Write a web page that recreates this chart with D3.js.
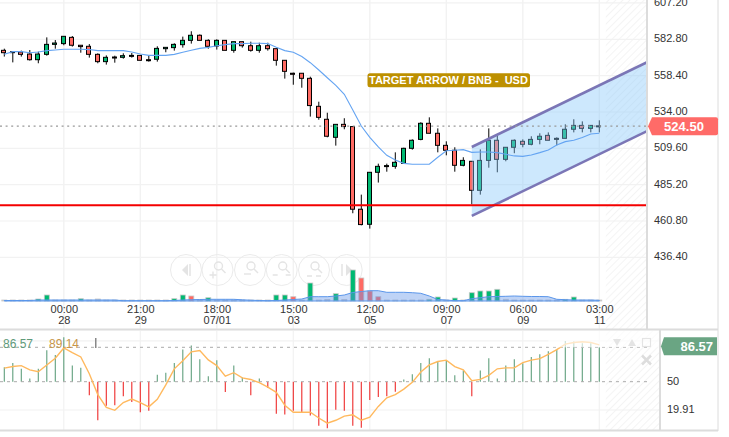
<!DOCTYPE html>
<html>
<head>
<meta charset="utf-8">
<script src="https://cdnjs.cloudflare.com/ajax/libs/d3/7.8.5/d3.min.js"></script>
<style>
  html, body { margin: 0; padding: 0; background: #fff; overflow: hidden; }
  text { font-family: "Liberation Sans", Arial, sans-serif; }
</style>
</head>
<body>
<div id="chart"></div>
<script>
//Candles, one entry per bar
const open = [575.4,574.5,574.3,572.9,569.1,572.7,579.4,579.9,584.1,578.8,578.1,572.7,567.8,570.9,570.7,572.0,572.0,569.1,569.4,576.5,577.2,579.2,582.1,585.5,582.1,578.3,582.1,575.4,581.2,578.5,575.4,578.5,576.5,568.7,560.0,560.0,556.6,537.8,529.1,517.0,525.7,524.2,468.7,458.6,493.5,497.5,497.5,499.5,509.6,515.6,526.4,519.7,511.6,508.3,498.2,500.9,481.4,501.5,515.0,502.2,510.3,514.3,512.3,515.6,518.3,516.3,516.3,522.4,525.0,523.0,524.7];
const high = [576.5,574.5,575.2,575.6,574.5,584.1,582.3,584.8,585.0,578.8,579.6,573.4,572.0,571.8,573.4,573.6,572.0,572.0,578.1,577.4,580.1,584.6,588.2,586.1,582.8,582.8,582.1,581.2,581.2,581.2,580.5,580.5,576.5,568.7,560.4,560.0,557.7,540.9,533.5,525.7,529.8,524.2,478.5,493.5,499.3,499.3,506.9,510.0,515.6,527.1,530.4,523.0,514.3,510.3,503.6,500.9,508.9,523.0,518.3,510.3,515.6,515.6,517.7,519.7,520.3,517.0,525.7,529.1,527.7,525.0,528.4];
const low = [571.2,567.3,571.2,568.5,566.7,571.8,576.5,578.8,577.9,573.8,570.5,566.7,565.8,567.1,569.8,570.5,568.5,567.8,567.8,574.1,575.2,577.2,579.9,582.1,576.5,575.9,575.4,573.8,577.2,574.5,573.8,575.2,565.1,556.4,552.3,550.3,530.9,528.8,517.0,511.4,522.4,466.0,457.9,455.7,486.6,493.9,495.9,499.5,508.7,515.0,519.7,506.9,504.9,493.9,497.5,472.0,478.5,496.6,493.5,500.9,506.3,510.3,511.6,512.3,515.0,511.6,516.3,520.3,520.3,520.3,520.3];
const close = [573.8,574.1,572.7,569.1,572.9,579.4,580.3,584.8,578.8,577.9,572.7,567.8,570.7,570.7,571.8,571.8,568.7,568.5,576.7,577.4,579.4,582.1,585.5,582.1,578.1,582.1,575.4,581.2,578.5,575.4,578.5,576.5,568.7,561.3,559.3,556.6,538.3,530.4,517.7,525.7,524.2,468.7,458.4,493.5,497.5,498.0,500.2,509.6,515.0,526.4,519.7,511.6,508.3,498.2,501.5,481.4,501.5,515.0,502.2,510.3,515.0,512.3,515.6,517.7,515.0,515.6,522.4,525.0,523.0,525.0,524.5];
const priceAvg = [572.7,574.5,574.5,573.8,574.3,575.2,575.6,576.1,576.1,576.1,575.9,575.2,575.2,575.2,575.2,574.3,572.9,572.0,572.0,572.0,572.7,574.1,575.4,576.7,577.4,578.5,579.2,579.9,579.9,580.1,580.1,579.9,577.4,575.2,574.1,571.2,567.1,562.2,557.0,551.9,545.9,535.3,524.6,517.0,510.5,504.9,501.8,499.5,498.9,498.9,498.9,503.6,508.0,508.3,508.7,506.9,507.1,507.1,506.7,505.6,504.5,504.2,505.1,506.7,508.5,511.8,514.1,515.0,516.8,519.2,519.7];

//Volume pane
const volume = [1,1,1,1,2,6,1,1,1,2.3,1,2,1,1,1,1,1,1,1,1,2.3,6,5,1,3.3,1,1,1,1,1,1,1,6,6,4.3,1,18,1,1.5,7.3,1.5,31,23,10,4.3,1,1,1,1,1,1.7,4,1,3,1,8.3,10,10,11.7,1.7,1,1,1,1,1,1,1.7,4,1,1,1];
const volumeKind = ['n','n','n','n','u','u','n','n','n','u','n','n','n','n','n','n','n','n','n','n','u','u','d','n','u','n','n','n','n','n','n','n','u','u','d','n','u','n','n','u','n','u','d','d','d','n','n','n','n','n','u','u','n','u','n','u','u','u','u','n','n','n','n','n','n','n','u','u','n','n','n'];
const volumeAvg = [0.5,0.5,0.5,0.5,1,1,1,1,1,1,1,1,1,1,0.3,0.3,0.3,0.3,0.3,0.3,0.5,1,1.3,1.5,1.7,1.7,1.7,1.7,1.2,0.8,0.5,0.3,0.5,1,1.5,2,4.3,4.3,4.3,5,6,8.5,9.5,10.3,10.3,8.7,8.7,8.7,8.3,7.7,5,1.5,1,0.3,0.3,2.3,3.3,4.3,4.5,4.7,5,4.7,4.5,4.5,4.3,1.7,1.3,1,1,1,0.7];

//Oscillator pane
const oscBars = [65.4,69.8,63.7,53.4,63.7,83.5,78.4,97.2,67.1,64.7,35.6,9.0,24.4,25.0,34.6,28.5,17.5,19.2,57.5,59.6,69.8,84.2,88.6,73.9,55.8,72.9,39.1,67.1,54.4,35.6,53.4,43.2,15.8,15.1,19.2,17.5,14.1,3.2,0.4,20.3,19.2,3.2,1.1,30.5,33.6,34.6,39.4,52.4,57.9,69.8,75.0,71.5,72.2,56.8,62.0,34.6,62.0,75.0,53.4,67.1,73.9,69.5,76.3,79.1,82.5,84.2,93.4,92.7,91.0,91.0,86.57];
const oscLine = [64.4,66.1,67.1,62.6,60.6,67.8,75.0,85.9,80.8,76.3,58.5,36.3,22.7,19.6,27.8,31.5,27.8,23.3,31.2,46.6,63.7,72.2,81.8,83.2,73.2,67.1,55.8,59.6,54.1,52.4,49.0,44.2,38.7,25.0,17.5,17.5,17.5,11.4,5.9,9.0,13.4,14.8,9.0,12.4,23.7,32.9,36.3,42.1,49.3,60.3,67.8,71.5,72.9,66.1,62.6,51.0,52.4,56.8,63.7,64.7,64.7,70.2,72.9,74.6,79.1,84.2,90.0,91.7,92.4,91.7,89.14];

//Axis labels
const priceTicks = [607.2,582.8,558.4,534.0,509.6,485.2,460.8,436.4];
const oscTicks = [50,19.91];
const timeIndex = [7,16,25,34,43,52,61,70];
const timeLabels = ['00:00','21:00','18:00','15:00','12:00','09:00','06:00','03:00'];
const dateLabels = ['28','29','07/01','03','05','07','09','11'];

//Drawn objects and levels
const lastPrice = 524.5;
const lastOsc = 86.57;
const oscSignal = 89.14;
const supportPrice = 471.4;
const channelIndex = [55,75.7];
const channelUpper = [510.5,567.6];
const channelLower = [464.2,521.4];

const width = 729, height = 437;
const plotRight = 647, lowerRight = 660, boxRight = 718;
const upColor = '#00b972', downColor = '#ff6a63';
const gridColor = '#f2f2f2', frameColor = '#dcdcdc';

const svg = d3.select('#chart').append('svg')
  .attr('width', width).attr('height', height)
  .style('display', 'block');

//Scales
const xScale = d3.scaleLinear().domain([0, 70]).range([4.3, 599.3]);
const yScale = d3.scaleLinear().domain([582.8, 460.8]).range([39.3, 221]);
const volScale = d3.scaleLinear().domain([0, 31]).range([301, 270]);
const oscScale = d3.scaleLinear().domain([50, 19.91]).range([381.7, 410]);

const defs = svg.append('defs');
const hatch = defs.append('pattern').attr('id', 'hatch')
  .attr('width', 5).attr('height', 5)
  .attr('patternUnits', 'userSpaceOnUse')
  .attr('patternTransform', 'rotate(45)');
hatch.append('line').attr('x1', 0).attr('y1', 0).attr('x2', 0).attr('y2', 5)
  .attr('stroke', '#f1f1f1').attr('stroke-width', 1.6);
defs.append('clipPath').attr('id', 'mainClip').append('rect')
  .attr('x', 0).attr('y', 0).attr('width', plotRight).attr('height', 329);
defs.append('clipPath').attr('id', 'oscClip').append('rect')
  .attr('x', 0).attr('y', 331).attr('width', lowerRight).attr('height', 99);

const xHatch = xScale(70) + 6.5;

//Grid
const grid = svg.append('g');
grid.selectAll('.grid-x').data(timeIndex).enter().append('line')
  .attr('x1', d => xScale(d)).attr('x2', d => xScale(d))
  .attr('y1', 0).attr('y2', 329)
  .attr('stroke', gridColor).attr('stroke-width', 1.4);
grid.selectAll('.grid-y').data(priceTicks).enter().append('line')
  .attr('x1', 0).attr('x2', plotRight)
  .attr('y1', d => yScale(d)).attr('y2', d => yScale(d))
  .attr('stroke', gridColor).attr('stroke-width', 1.2);
grid.selectAll('.grid-xo').data(timeIndex).enter().append('line')
  .attr('x1', d => xScale(d)).attr('x2', d => xScale(d))
  .attr('y1', 331).attr('y2', 430)
  .attr('stroke', gridColor).attr('stroke-width', 1.2);
grid.selectAll('.grid-yo').data([19.91, 93.5]).enter().append('line')
  .attr('x1', 0).attr('x2', lowerRight)
  .attr('y1', d => oscScale(d)).attr('y2', d => oscScale(d))
  .attr('stroke', gridColor).attr('stroke-width', 1.2);

//Hatched future area
svg.append('rect').attr('x', xHatch).attr('y', 0)
  .attr('width', plotRight - xHatch).attr('height', 329).attr('fill', 'url(#hatch)');
svg.append('rect').attr('x', xHatch).attr('y', 331)
  .attr('width', lowerRight - xHatch).attr('height', 99).attr('fill', 'url(#hatch)');

//Navigation buttons
const navX = [186, 217.5, 250, 281.7, 314, 346.7];
const nav = svg.append('g').attr('fill', 'none').attr('stroke', '#ebebeb');
nav.selectAll('circle').data(navX).enter().append('circle')
  .attr('cx', d => d).attr('cy', 270).attr('r', 15.5).attr('stroke-width', 1);
nav.append('path').attr('d', 'M188,264 L188,276 L182,270 Z').attr('fill', '#e4e4e4').attr('stroke', 'none');
nav.append('path').attr('d', 'M346,264 L346,276 L352,270 Z').attr('fill', '#e4e4e4').attr('stroke', 'none');
nav.append('path').attr('d', 'M190,264 L190,276 M342,264 L342,276').attr('stroke', '#e4e4e4').attr('stroke-width', 1.5);
navX.slice(1, 5).forEach((cx, i) => {
  const g = nav.append('g').attr('stroke', '#e4e4e4').attr('stroke-width', 1.4);
  g.append('circle').attr('cx', cx + 1).attr('cy', 266).attr('r', 4);
  g.append('line').attr('x1', cx + 4).attr('y1', 269).attr('x2', cx + 8).attr('y2', 273);
  if (i === 0) g.append('path').attr('d', `M${cx - 8},275 h7 M${cx - 4.5},271.5 v7`);
  if (i === 1) g.append('path').attr('d', `M${cx - 6},274 h7`);
  if (i === 2) g.append('path').attr('d', `M${cx - 9},275 h5 M${cx + 4},275 h5`);
  if (i === 3) g.append('path').attr('d', `M${cx - 7},276 h5 M${cx + 2},276 h5`);
});

//Volume bars
const main = svg.append('g').attr('clip-path', 'url(#mainClip)');
main.selectAll('.vol').data(volume).enter().append('rect')
  .attr('class', 'vol')
  .attr('x', (d, i) => xScale(i) - 2.5)
  .attr('width', 5)
  .attr('y', d => volScale(d))
  .attr('height', d => volScale(0) - volScale(d))
  .attr('fill', (d, i) => volumeKind[i] === 'u' ? upColor : volumeKind[i] === 'd' ? downColor : '#cccccc')
  .attr('stroke', '#c8c8c8').attr('stroke-width', 0.8);

//Volume average
const volArea = d3.area().x((d, i) => xScale(i)).y0(volScale(0)).y1(d => volScale(d));
main.append('path').attr('d', volArea(volumeAvg))
  .attr('fill', 'rgba(92,146,232,0.4)')
  .attr('stroke', '#5b96ea').attr('stroke-width', 1);

//Candles
const candles = main.selectAll('.candle').data(open).enter().append('g').attr('class', 'candle');
candles.append('line')
  .attr('x1', (d, i) => xScale(i)).attr('x2', (d, i) => xScale(i))
  .attr('y1', (d, i) => yScale(high[i])).attr('y2', (d, i) => yScale(low[i]))
  .attr('stroke', '#000').attr('stroke-width', 1);
candles.append('rect')
  .attr('x', (d, i) => Math.round(xScale(i)) - 2.5)
  .attr('width', 4)
  .attr('y', (d, i) => yScale(Math.max(d, close[i])))
  .attr('height', (d, i) => Math.max(1, Math.abs(yScale(d) - yScale(close[i]))))
  .attr('fill', (d, i) => close[i] >= d ? upColor : downColor)
  .attr('stroke', '#000').attr('stroke-width', 1);

//Price channel
const channel = d3.range(2).map(i => [channelIndex[i], channelUpper[i], channelLower[i]]);
main.append('path')
  .attr('d', d3.area().x(d => xScale(d[0])).y0(d => yScale(d[2])).y1(d => yScale(d[1]))(channel))
  .attr('fill', 'rgba(135,200,250,0.42)');
[1, 2].forEach(k => {
  main.append('path')
    .attr('d', d3.line().x(d => xScale(d[0])).y(d => yScale(d[k]))(channel))
    .attr('fill', 'none').attr('stroke', '#7b76b6').attr('stroke-width', 2.6);
});

//Price average
main.append('path')
  .attr('d', d3.line().x((d, i) => xScale(i)).y(d => yScale(d))(priceAvg))
  .attr('fill', 'none').attr('stroke', '#64a4f2').attr('stroke-width', 1.1);

//Support and last price lines
main.append('line').attr('x1', 0).attr('x2', plotRight)
  .attr('y1', yScale(supportPrice)).attr('y2', yScale(supportPrice))
  .attr('stroke', '#f40000').attr('stroke-width', 2);
main.append('line').attr('x1', 0).attr('x2', plotRight)
  .attr('y1', yScale(lastPrice)).attr('y2', yScale(lastPrice))
  .attr('stroke', '#999').attr('stroke-width', 1.4).attr('stroke-dasharray', '2,3.6');

//Target label
svg.append('rect').attr('x', 367.5).attr('y', 73.3).attr('width', 162.5).attr('height', 14)
  .attr('rx', 2.5).attr('fill', '#bd9000');
svg.append('text').attr('x', 369).attr('y', 84.3)
  .attr('font-size', 11).attr('font-weight', 'bold').attr('fill', '#fff')
  .attr('xml:space', 'preserve').style('white-space', 'pre')
  .text('TARGET ARROW / BNB -  USD');

//Price axis
const priceAxis = svg.append('g')
  .attr('transform', `translate(${plotRight},-1)`)
  .call(d3.axisRight(yScale).tickValues(priceTicks).tickSize(0).tickPadding(7).tickFormat(d3.format('.2f')));
priceAxis.select('.domain').remove();
priceAxis.selectAll('text').attr('font-size', 11).attr('fill', '#333').style('font-family', '"Liberation Sans", Arial, sans-serif');

//Time axis, two rows per tick
const timeAxis = svg.append('g')
  .attr('transform', 'translate(0,301)')
  .call(d3.axisBottom(xScale).tickValues(timeIndex).tickSize(0).tickPadding(4)
    .tickFormat((d, i) => timeLabels[i]));
timeAxis.select('.domain').remove();
timeAxis.selectAll('text').attr('font-size', 11).attr('fill', '#333').style('font-family', '"Liberation Sans", Arial, sans-serif');
timeAxis.selectAll('.tick').append('text')
  .attr('y', 23).attr('text-anchor', 'middle')
  .attr('font-size', 11).attr('fill', '#333').style('font-family', '"Liberation Sans", Arial, sans-serif')
  .text((d, i) => dateLabels[i]);

//Oscillator bars
const osc = svg.append('g').attr('clip-path', 'url(#oscClip)');
osc.selectAll('.osc').data(oscBars).enter().append('line')
  .attr('x1', (d, i) => xScale(i)).attr('x2', (d, i) => xScale(i))
  .attr('y1', oscScale(50)).attr('y2', d => oscScale(d))
  .attr('stroke', d => d >= 50 ? '#5f9f7c' : '#ee2a2a').attr('stroke-width', 1.1);

//Oscillator reference lines
[50, lastOsc].forEach(v => {
  osc.append('line').attr('x1', 0).attr('x2', 650)
    .attr('y1', oscScale(v)).attr('y2', oscScale(v))
    .attr('stroke', '#aaa').attr('stroke-width', 1).attr('stroke-dasharray', '3,4');
});

//Oscillator signal
osc.append('path')
  .attr('d', d3.line().x((d, i) => xScale(i)).y(d => oscScale(d))(oscLine))
  .attr('fill', 'none').attr('stroke', '#ffb95e').attr('stroke-width', 1.4);

//Pale veil behind the pane controls
svg.append('rect').attr('x', xScale(64)).attr('y', 331)
  .attr('width', lowerRight - xScale(64)).attr('height', oscScale(lastOsc) - 331)
  .attr('fill', '#fff').attr('opacity', 0.65);

//Oscillator legend
svg.append('text').attr('x', 3).attr('y', 348).attr('font-size', 12).attr('fill', '#5f9a7a').text(lastOsc.toFixed(2));
svg.append('text').attr('x', 49).attr('y', 348).attr('font-size', 12).attr('fill', '#c8964a').text(oscSignal.toFixed(2));
svg.append('rect').attr('x', 95).attr('y', 338).attr('width', 1.5).attr('height', 10).attr('fill', '#888');

//Pane controls
const controls = svg.append('g').attr('fill', '#e4e4e4');
controls.append('path').attr('d', 'M613,339 h8 l-4,7 Z');
controls.append('path').attr('d', 'M632,339 l4,7 h-8 Z');
controls.append('rect').attr('x', 642.5).attr('y', 338.5).attr('width', 8).attr('height', 8)
  .attr('fill', 'none').attr('stroke', '#e4e4e4').attr('stroke-width', 1.2);
controls.append('path').attr('d', 'M642,355.5 L651,364.5 M651,355.5 L642,364.5')
  .attr('stroke', '#dddddd').attr('stroke-width', 2.5);

//Oscillator axis
const oscAxis = svg.append('g')
  .attr('transform', `translate(${lowerRight},-1)`)
  .call(d3.axisRight(oscScale).tickValues(oscTicks).tickSize(0).tickPadding(7).tickFormat(d => d));
oscAxis.select('.domain').remove();
oscAxis.selectAll('text').attr('font-size', 11).attr('fill', '#333').style('font-family', '"Liberation Sans", Arial, sans-serif');

//Pane frames
const frame = svg.append('g').attr('stroke', frameColor);
frame.append('line').attr('x1', plotRight).attr('x2', plotRight).attr('y1', 0).attr('y2', 329).attr('stroke-width', 2);
frame.append('line').attr('x1', boxRight).attr('x2', boxRight).attr('y1', 0).attr('y2', 431).attr('stroke-width', 1);
frame.append('line').attr('x1', lowerRight).attr('x2', lowerRight).attr('y1', 330).attr('y2', 431).attr('stroke-width', 2);
frame.append('line').attr('x1', 0).attr('x2', boxRight).attr('y1', 329.5).attr('y2', 329.5).attr('stroke-width', 2);
frame.append('line').attr('x1', 0).attr('x2', boxRight).attr('y1', 430.5).attr('y2', 430.5).attr('stroke-width', 2);

//Last value tags
const priceY = yScale(lastPrice);
svg.append('path')
  .attr('d', `M648,${priceY} L652,${priceY - 9} H716 a2,2 0 0 1 2,2 V${priceY + 7} a2,2 0 0 1 -2,2 H652 Z`)
  .attr('fill', '#ff6b68');
svg.append('text').attr('x', 684).attr('y', priceY + 4.5).attr('text-anchor', 'middle')
  .attr('font-size', 13).attr('font-weight', 'bold').attr('fill', '#fff').text(lastPrice.toFixed(2));
const oscY = oscScale(lastOsc);
svg.append('path')
  .attr('d', `M661,${oscY - 1} L664,${oscY - 10} H717 V${oscY + 8} H664 Z`)
  .attr('fill', '#6aa583');
svg.append('text').attr('x', 713).attr('y', oscY + 3.5).attr('text-anchor', 'end')
  .attr('font-size', 13).attr('font-weight', 'bold').attr('fill', '#fff').text(lastOsc.toFixed(2));
</script>
</body>
</html>
